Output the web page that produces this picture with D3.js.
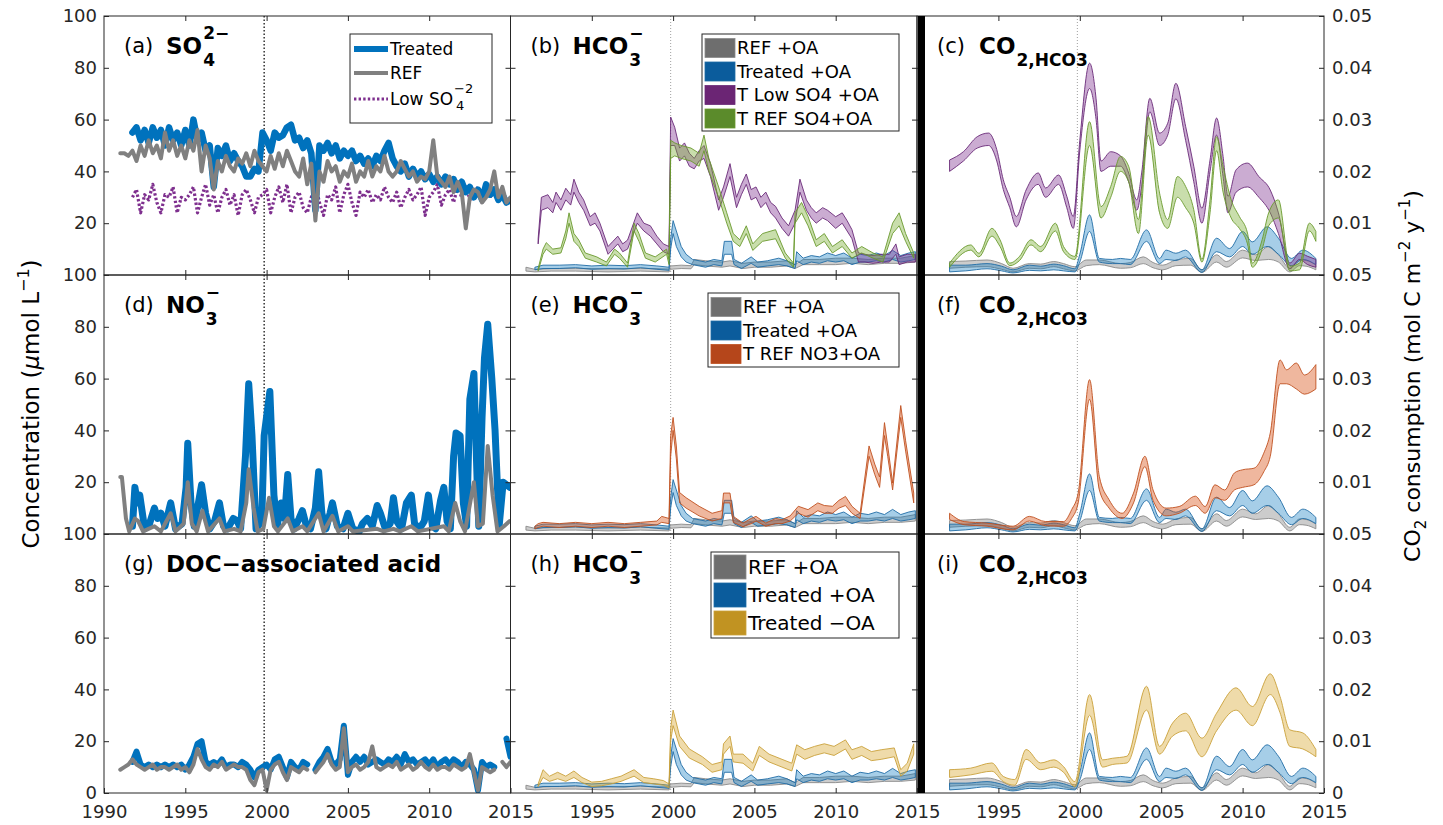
<!DOCTYPE html>
<html>
<head>
<meta charset="utf-8">
<script src="https://cdn.jsdelivr.net/npm/d3@7"></script>
<style>
  body { margin: 0; background: #fff; }
  svg { display: block; }
</style>
</head>
<body>
<svg id="chart" width="1443" height="825"></svg>
<script>
// ---------- data ----------
// column 1: quarterly samples starting 1991.0
const qStart = 1991, qStep = 0.25;

const so4Treated = [null, null, null, 55,
  57, 52, 56, 51,  57, 53, 56, 50,  57, 52, 55, 50,  56, 50, 60, 52,
  55, 48, 50, 34,  49, 46, 50, 44,  47, 44, 42, 38,  38, 41, 40, 55,
  52, 48, 55, 53,  54, 57, 58, 52,  53, 49, 52, 47,  25, 50, 48, 51,
  47, 50, 45, 48,  46, 48, 44, 46,  43, 45, 42, 46,  44, 48, 51, 45,
  42, 40, 43, 38,  41, 38, 40, 37,  39, 36, 38, 35,  38, 35, 37, 33,
  36, 32, 34, 30,  33, 29, 35, 31,  33, 29, 31, 28,  29];
const so4Ref = [47, 47, 46, 48,
  44, 50, 46, 52,  47, 50, 45, 55,  48, 52, 46, 50,  45, 52, 48, 56,
  40, 50, 45, 33,  44, 40, 46, 42,  40, 45, 43, 47,  42, 48, 44, 42,
  40, 46, 41, 47,  42, 48, 44, 40,  38, 45, 35, 43,  21, 40, 36, 44,
  40, 42, 36, 40,  38, 43, 36, 40,  38, 44, 38, 42,  40, 46, 40, 38,
  40, 44, 41, 38,  40, 36, 38, 37,  40, 52, 38, 36,  34, 38, 32, 36,
  32, 18, 30, 33,  32, 28, 30, 33,  40, 30, 34, 28,  30];
const so4Low = [null, null, null, 30,
  33, 24, 31, 29,  35, 28, 24, 31,  30, 34, 24, 30,  29, 31, 34, 24,
  30, 35, 27, 31,  24, 30, 33, 27,  31, 23, 31, 33,  29, 24, 30, 31,
  33, 24, 30, 34,  28, 35, 24, 30,  32, 26, 24, 30,  35, 28, 23, 31,
  29, 34, 24, 31,  35, 28, 23, 32,  30, 33, 28, 31,  29, 34, 30, 28,
  32, 26, 30, 33,  29, 31, 34, 23,  30, 32, 35, 27,  31, 33, 28, 34,
  30, 35, 29, 31,  34, 28, 31, 30,  33, 29, 31, 28,  30];

const docTreated = [null, null, null, 12,
  16, 11, 10, 11,  10, 11, 10, 11,  10, 11, 10, 11,  9, 11, 14, 19,
  20, 12, 11, 12,  11, 13, 10, 11,  11, 10, 12, 11,  9, 6, 9, 10,
  11, 9, 13, 14,  10, 6, 12, 10,  9, 12, 11, null,  9, 12, 14, 17,
  12, 11, 13, 26,  7, 12, 14, 12,  14, 11, 12, 13,  12, 11, 13, 12,
  14, 11, 15, 12,  13, 11, 12, 13,  11, 13, 10, 12,  13, 11, 13, 12,
  10, 12, 11, 9,  1, 12, 10, 11,  10, null, null, 21,  14];
const docRef = [9, 10, 11, 13,
  11, 10, 9, 10,  11, 9, 10, 10,  9, 10, 11, 9,  10, 8, 11, 17,
  13, 10, 9, 11,  10, 12, 9, 10,  11, 10, 10, 9,  5, 3, 8, 9,
  1, 9, 11, 12,  8, 5, 10, 9,  8, 10, 9, null,  8, 10, 12, 15,
  11, 9, 10, 25,  8, 10, 11, 9,  10, 12, 18, 10,  9, 10, 11, 10,
  12, 9, 10, 11,  9, 10, 12, 10,  9, 11, 9, 10,  10, 9, 11, 10,
  9, 10, 15, 8,  1, 10, 9, 8,  9, null, 12, 10,  12];

// nitrate: [year, value]
const no3Treated = [[1991.75, 3], [1991.9, 18], [1992.05, 12], [1992.2, 15], [1992.5, 2], [1992.8, 4],
  [1993.1, 10], [1993.3, 6], [1993.5, 8], [1993.75, 3], [1994.1, 12], [1994.4, 2], [1994.8, 4],
  [1995.05, 18], [1995.15, 35], [1995.35, 12], [1995.55, 3], [1995.75, 10], [1996.0, 19], [1996.25, 8],
  [1996.5, 2], [1996.8, 5], [1997.1, 12], [1997.35, 3], [1997.6, 2], [1997.95, 6], [1998.2, 5],
  [1998.4, 2], [1998.7, 30], [1998.9, 58], [1999.1, 38], [1999.35, 2], [1999.7, 5], [1999.85, 38],
  [2000.2, 55], [2000.45, 15], [2000.65, 3], [2000.9, 12], [2001.1, 6], [2001.3, 23], [2001.5, 6],
  [2001.7, 2], [2002.0, 6], [2002.2, 9], [2002.45, 3], [2002.7, 2], [2003.0, 10], [2003.2, 24],
  [2003.4, 8], [2003.65, 2], [2003.9, 8], [2004.05, 12], [2004.35, 3], [2004.7, 2], [2005.0, 8],
  [2005.3, 2], [2005.7, 1], [2005.9, 4], [2006.2, 6], [2006.5, 3], [2006.8, 11], [2007.0, 8],
  [2007.3, 2], [2007.6, 4], [2007.8, 14], [2008.0, 5], [2008.3, 2], [2008.6, 12], [2008.9, 15],
  [2009.1, 4], [2009.4, 2], [2009.7, 5], [2009.95, 15], [2010.2, 3], [2010.4, 2], [2010.7, 13],
  [2010.9, 18], [2011.1, 5], [2011.3, 2], [2011.5, 30], [2011.65, 39], [2011.9, 38], [2012.1, 12],
  [2012.3, 3], [2012.5, 52], [2012.75, 62], [2012.95, 20], [2013.05, 3], [2013.25, 45], [2013.4, 68],
  [2013.6, 81], [2013.85, 60], [2014.05, 40], [2014.3, 3], [2014.55, 20], [2014.75, 19], [2014.95, 18]];
const no3Ref = [[1991.0, 22], [1991.1, 22], [1991.35, 6], [1991.55, 1], [1991.9, 6], [1992.1, 5],
  [1992.4, 1], [1993.1, 3], [1993.5, 1], [1994.1, 8], [1994.4, 1], [1994.9, 4], [1995.15, 20],
  [1995.4, 4], [1995.7, 1], [1996.05, 9], [1996.4, 1], [1997.1, 6], [1997.4, 1], [1998.0, 2],
  [1998.4, 1], [1998.75, 12], [1998.9, 25], [1999.2, 10], [1999.45, 1], [1999.8, 2], [2000.15, 14],
  [2000.45, 3], [2000.7, 1], [2001.3, 6], [2001.6, 1], [2002.2, 3], [2002.5, 1], [2003.2, 8],
  [2003.5, 1], [2004.05, 7], [2004.4, 1], [2005.0, 3], [2005.3, 1], [2006.8, 2], [2007.2, 1],
  [2007.8, 2], [2008.2, 1], [2008.9, 3], [2009.3, 1], [2010.9, 3], [2011.2, 1], [2011.6, 12],
  [2011.9, 5], [2012.2, 1], [2012.75, 20], [2013.0, 3], [2013.3, 4], [2013.6, 34], [2013.9, 15],
  [2014.2, 1], [2014.6, 3], [2014.95, 5]];

// column 2: HCO3- bands [year, low, high] (umol/L)
const hcoRef = [[1990.95, 1.5, 3], [1991.5, 1.2, 2.2], [1992.5, 1.5, 2.5], [1994, 1.5, 2.6], [1996, 1.2, 2.3],
  [1998, 1.5, 2.6], [1999.75, 1.2, 2.3], [1999.85, 2.2, 3.5], [2000.5, 2.5, 3.8], [2001.1, 2.4, 3.6],
  [2001.3, 4, 6], [2002, 3.5, 5.5], [2003, 3, 5], [2003.5, 3.5, 5.5], [2004.3, 2.5, 4.5], [2005, 3, 5],
  [2006, 3, 5], [2007, 3.5, 5.5], [2007.5, 2.5, 4], [2008, 4, 6], [2009, 4, 6], [2010, 4, 6.5],
  [2011, 4.5, 6.5], [2012, 4, 6], [2013, 4.5, 6.5], [2014, 4.5, 6.5], [2014.9, 5, 7.5]];
const hcoTreated = [[1991.5, 2, 3], [1992, 2.5, 3.8], [1993, 2.5, 3.8], [1994, 2.8, 4], [1995, 2.2, 3.5],
  [1996, 2.5, 3.8], [1997, 2.3, 3.6], [1998, 2.8, 4], [1999, 2.2, 3.5], [1999.75, 1.8, 3],
  [1999.85, 10, 14], [2000.0, 16, 21], [2000.2, 11, 17], [2000.5, 7, 11], [2000.8, 5, 8], [2001.2, 4, 6],
  [2001.6, 3.5, 5.5], [2002, 3, 5], [2002.5, 4, 6], [2003.0, 3.5, 5.5], [2003.15, 8, 13], [2003.6, 8, 13],
  [2003.75, 4, 6], [2004.2, 2.5, 4.5], [2004.8, 4.5, 7], [2005.2, 3, 5], [2005.8, 3.5, 5.5],
  [2006.5, 4, 6.5], [2007.0, 3.5, 5.5], [2007.5, 2.5, 4], [2007.6, 5.5, 9], [2008.0, 4, 6.5],
  [2008.5, 5, 7.5], [2009, 4.5, 7], [2009.5, 5.5, 8.5], [2010, 5, 7.5], [2010.5, 5.5, 8.5], [2011, 4, 6.5],
  [2011.5, 5, 8], [2012, 5, 7.5], [2012.5, 5.5, 8.5], [2013, 5, 7.5], [2013.5, 6, 9.5], [2014, 5, 7.5],
  [2014.5, 5.5, 8.5], [2014.9, 6, 9]];
const hcoLowSO4 = [[1991.7, 12, 14], [1991.9, 25, 30], [1992.3, 26, 31], [1992.6, 24, 28], [1992.8, 28, 32],
  [1993.1, 25, 29], [1993.4, 29, 33.5], [1993.7, 27, 31], [1993.9, 32, 37], [1994.2, 28, 32], [1994.5, 25, 29],
  [1994.9, 19, 22.5], [1995.2, 20, 24], [1995.5, 17, 20], [1996.0, 8, 11], [1996.3, 10, 13], [1996.6, 12, 15],
  [1996.9, 9, 12], [1997.2, 10, 13.5], [1997.8, 20, 24], [1998.2, 17, 20], [1998.6, 15, 19], [1999.0, 12, 15],
  [1999.4, 9, 12], [1999.75, 8, 11], [1999.85, 50, 61], [2000.1, 50, 57], [2000.4, 44, 49], [2000.7, 46, 51],
  [2001.0, 42, 47], [2001.3, 41, 45], [2001.6, 44, 48], [2001.9, 45, 50], [2002.3, 38, 43], [2002.8, 25, 29],
  [2003.1, 30, 34], [2003.5, 38, 43], [2003.9, 26, 30], [2004.2, 31, 35], [2004.5, 35, 39], [2004.8, 29, 33],
  [2005.1, 30, 34], [2005.4, 26, 30], [2005.7, 28, 32], [2006.0, 24, 28], [2006.3, 22, 26.5], [2006.7, 18, 22],
  [2007.1, 15, 19], [2007.5, 20, 25], [2007.8, 32, 37], [2008.2, 25, 29], [2008.5, 22, 26], [2008.8, 20, 24],
  [2009.2, 22, 26], [2009.5, 21, 25], [2010.0, 18, 22.5], [2010.4, 20, 24], [2010.7, 17, 21], [2011.0, 14, 17.5],
  [2011.4, 5, 8.5], [2011.8, 5, 8], [2012.3, 4.5, 7.5], [2012.8, 5, 8], [2013.3, 5, 8], [2013.7, 8, 12],
  [2013.9, 4, 7], [2014.4, 5, 8], [2014.9, 5, 8]];
const hcoRefSO4 = [[1991.7, 1.5, 2.5], [1992.0, 8, 10], [1992.2, 10, 12.5], [1992.6, 8, 10], [1993.1, 8.5, 10.5],
  [1993.4, 14, 17], [1993.6, 20, 24], [1993.9, 13, 16], [1994.2, 11, 13.5], [1994.6, 6.5, 8.5], [1995.3, 5, 7],
  [1995.9, 3.5, 5], [1996.4, 8, 10], [1996.7, 6.5, 8.5], [1997.2, 3, 4.6], [1997.6, 17, 20], [1997.9, 13, 16],
  [1998.3, 6.5, 8.5], [1998.9, 5, 7], [1999.6, 8, 10], [1999.75, 4, 6], [1999.85, 45, 52], [2000.1, 46, 51],
  [2000.5, 45, 50], [2001.1, 44, 49], [2001.6, 42, 47], [2001.9, 48, 54], [2002.2, 40, 45], [2002.8, 30, 34],
  [2003.3, 20, 24], [2003.7, 13, 16], [2004.1, 11, 13.6], [2004.5, 16, 19], [2004.9, 9.5, 12], [2005.5, 13, 16],
  [2006.3, 14, 17.5], [2006.9, 6.5, 8.5], [2007.4, 3, 4.6], [2007.5, 20, 24], [2007.9, 24, 28],
  [2008.3, 19, 22.6], [2008.8, 11, 13.6], [2009.3, 13, 16], [2009.8, 8.5, 11], [2010.4, 11, 13.6],
  [2011.0, 6.5, 8.5], [2011.6, 8.5, 11], [2012.3, 6.5, 8.5], [2012.9, 5, 7], [2013.5, 16, 20],
  [2013.9, 19, 24], [2014.3, 13, 16], [2014.8, 6.5, 8.5]];
const hcoRefNO3 = [[1991.5, 2, 3], [1991.7, 2.5, 4], [1992.0, 3, 4.5], [1993, 2.5, 4], [1994, 3, 4.5],
  [1995, 2.5, 4], [1996, 3, 4.5], [1997, 2.5, 4], [1998, 3, 4.5], [1999.0, 3.5, 5], [1999.3, 4.5, 6.8],
  [1999.75, 4, 6], [1999.85, 30, 38], [2000.0, 40, 45], [2000.2, 29, 34], [2000.4, 12, 16], [2000.8, 10, 14],
  [2001.6, 7, 10.7], [2002.4, 5, 8], [2003.0, 6, 9], [2003.1, 12, 15.8], [2003.5, 12, 15.8], [2003.7, 4.5, 6.8],
  [2004.3, 2.8, 4.2], [2004.8, 4, 6], [2005.1, 5, 6.8], [2005.7, 3, 4.2], [2006.3, 4, 6], [2006.7, 4, 5.5],
  [2007.2, 5, 7], [2007.7, 8, 10.7], [2008.3, 6.5, 9.4], [2008.9, 9, 12], [2009.3, 8, 11], [2009.8, 8, 10.7],
  [2010.2, 10, 13], [2010.6, 11, 14.5], [2011.0, 8, 10.7], [2011.5, 6, 8], [2012.05, 30, 34],
  [2012.4, 23, 27], [2012.7, 18, 22], [2013.0, 38, 43], [2013.2, 30, 34], [2013.5, 17, 19.7],
  [2014.0, 45, 49.6], [2014.3, 32, 36], [2014.8, 12, 15.8]];
const hcoNoOA = [[1991.7, 2.5, 3.5], [1992.0, 6, 9], [1992.4, 4.5, 6.5], [1992.9, 5.5, 8], [1993.4, 4.5, 6.5],
  [1993.9, 6, 8.5], [1994.4, 4, 6], [1995.0, 2.5, 4.2], [1995.6, 2.8, 4.5], [1996.2, 3.5, 5.5],
  [1996.8, 4.5, 6.5], [1997.6, 6.5, 9], [1998.2, 4, 6], [1998.8, 3.5, 5.5], [1999.4, 3, 4.8],
  [1999.75, 2, 3.5], [1999.85, 20, 25], [2000.0, 26, 32], [2000.4, 18, 22], [2001.0, 13.5, 17],
  [2001.8, 11, 14], [2002.4, 8, 11], [2003.0, 9, 12], [2003.1, 15, 19], [2003.5, 18, 22], [2003.7, 12, 15],
  [2004.3, 11.5, 15], [2004.9, 8.5, 11.5], [2005.3, 14.5, 18], [2005.9, 12, 15], [2006.7, 10, 13],
  [2007.3, 8.5, 11.5], [2007.6, 15, 18.6], [2008.1, 13, 16.7], [2008.7, 14.5, 18], [2009.3, 15.5, 19],
  [2009.9, 14.5, 18], [2010.6, 17, 20.5], [2011.0, 13, 16.7], [2011.6, 14.5, 18], [2012.2, 12.5, 16],
  [2012.8, 13, 16.7], [2013.6, 14, 17.4], [2014.0, 6.5, 9], [2014.4, 8.5, 11.5], [2014.8, 15, 19]];

// column 3: CO2 consumption bands [year, low, high] (mol C m-2 y-1)
const co2Ref = [[1992.0, 0.0013, 0.0026], [1993.0, 0.0015, 0.0027], [1994.3, 0.0016, 0.0029], [1995.2, 0.0011, 0.0022],
  [1995.9, 0.0006, 0.0013], [1996.9, 0.0013, 0.0022], [1997.6, 0.0012, 0.0021], [1998.4, 0.0016, 0.0026],
  [1999.0, 0.0012, 0.0022], [1999.7, 0.0008, 0.0016], [2000.4, 0.0018, 0.0029], [2001.2, 0.002, 0.0029],
  [2002.5, 0.0013, 0.0022], [2003.1, 0.0014, 0.0024], [2003.9, 0.0022, 0.0035], [2004.5, 0.0014, 0.0024],
  [2005.1, 0.001, 0.0019], [2005.9, 0.0018, 0.0029], [2006.8, 0.0019, 0.0032], [2007.5, 0.0005, 0.001],
  [2008.4, 0.0025, 0.0039], [2009.0, 0.0015, 0.0026], [2010.0, 0.0033, 0.0048], [2010.8, 0.0028, 0.0039],
  [2011.6, 0.003, 0.0055], [2012.2, 0.0025, 0.0039], [2012.9, 0.0006, 0.0013], [2013.5, 0.0018, 0.0029],
  [2013.9, 0.0017, 0.0028], [2014.5, 0.001, 0.0019]];
const co2Treated = [[1992.0, 0.0006, 0.0019], [1993.0, 0.0008, 0.0019], [1994.3, 0.0012, 0.0022], [1995.2, 0.0008, 0.0017],
  [1995.9, 0.0004, 0.001], [1996.9, 0.0009, 0.0019], [1997.6, 0.0008, 0.0017], [1998.4, 0.001, 0.0021],
  [1999.0, 0.0008, 0.0018], [1999.7, 0.0006, 0.0012], [2000.0, 0.0025, 0.004], [2000.6, 0.0084, 0.0116],
  [2001.2, 0.0025, 0.0032], [2002.0, 0.0022, 0.003], [2002.5, 0.0022, 0.0032], [2003.1, 0.002, 0.003],
  [2004.1, 0.0065, 0.0087], [2004.9, 0.0022, 0.0032], [2005.3, 0.003, 0.0048], [2005.9, 0.0028, 0.0042],
  [2006.5, 0.0035, 0.0048], [2007.5, 0.0005, 0.001], [2008.4, 0.0045, 0.0071], [2009.2, 0.0035, 0.0051],
  [2010.0, 0.0055, 0.0084], [2010.6, 0.004, 0.0064], [2011.5, 0.0055, 0.0093], [2012.2, 0.004, 0.0071],
  [2013.0, 0.0018, 0.0032], [2013.7, 0.003, 0.0048], [2014.5, 0.002, 0.0032]];
const co2LowSO4 = [[1992.0, 0.02, 0.0222], [1992.85, 0.022, 0.0238], [1993.7, 0.0245, 0.0267], [1994.4, 0.025, 0.0274],
  [1994.9, 0.022, 0.0242], [1995.3, 0.0165, 0.0184], [1995.7, 0.013, 0.015], [1996.1, 0.0093, 0.0113],
  [1996.7, 0.0145, 0.0164], [1997.45, 0.0175, 0.0197], [1997.9, 0.015, 0.0168], [1998.7, 0.0175, 0.0193],
  [1999.2, 0.013, 0.0152], [1999.6, 0.009, 0.0113], [2000.0, 0.024, 0.026], [2000.6, 0.036, 0.0409],
  [2001.0, 0.03, 0.034], [2001.3, 0.02, 0.022], [2001.9, 0.021, 0.0238], [2002.5, 0.021, 0.023],
  [2003.0, 0.018, 0.0197], [2003.5, 0.0125, 0.0145], [2003.8, 0.017, 0.0197], [2004.3, 0.0315, 0.0341],
  [2004.9, 0.025, 0.0274], [2005.4, 0.027, 0.0293], [2005.9, 0.034, 0.037], [2006.5, 0.026, 0.0287],
  [2007.0, 0.018, 0.021], [2007.5, 0.01, 0.0129], [2008.0, 0.02, 0.0222], [2008.4, 0.027, 0.0303],
  [2008.8, 0.019, 0.0229], [2009.1, 0.012, 0.0152], [2009.6, 0.016, 0.0203], [2010.3, 0.017, 0.0216],
  [2011.0, 0.015, 0.019], [2011.7, 0.012, 0.0164], [2012.2, 0.008, 0.012], [2012.9, 0.0012, 0.0023],
  [2013.5, 0.003, 0.0042], [2014.0, 0.002, 0.0036], [2014.5, 0.0015, 0.003]];
const co2RefSO4 = [[1992.0, 0.0015, 0.0023], [1993.3, 0.0048, 0.0058], [1993.8, 0.0035, 0.0042], [1994.6, 0.0075, 0.009],
  [1995.1, 0.0055, 0.0068], [1995.7, 0.0018, 0.0023], [1996.3, 0.0028, 0.0036], [1997.0, 0.0058, 0.0068],
  [1997.6, 0.0045, 0.0055], [1998.5, 0.0085, 0.01], [1999.0, 0.0045, 0.0055], [1999.7, 0.003, 0.0036],
  [2000.6, 0.025, 0.0296], [2001.3, 0.011, 0.0132], [2001.9, 0.015, 0.0171], [2002.5, 0.02, 0.0229],
  [2003.0, 0.018, 0.021], [2003.6, 0.008, 0.0107], [2004.2, 0.027, 0.0306], [2004.9, 0.012, 0.0158],
  [2005.4, 0.009, 0.0107], [2006.0, 0.015, 0.019], [2006.5, 0.013, 0.0171], [2007.0, 0.01, 0.0126],
  [2007.5, 0.0025, 0.003], [2008.0, 0.012, 0.0145], [2008.4, 0.024, 0.0267], [2008.8, 0.016, 0.021],
  [2009.3, 0.011, 0.0145], [2009.8, 0.009, 0.0113], [2010.3, 0.006, 0.0081], [2010.6, 0.0015, 0.0023],
  [2011.2, 0.005, 0.0068], [2011.6, 0.0095, 0.012], [2012.2, 0.011, 0.0145], [2012.9, 0.0008, 0.0017],
  [2013.5, 0.001, 0.0023], [2014.1, 0.0085, 0.01], [2014.5, 0.0065, 0.0084]];
const co2RefNO3 = [[1992.0, 0.0028, 0.004], [1992.9, 0.0018, 0.0024], [1994.3, 0.0015, 0.0021], [1995.9, 0.0008, 0.0015],
  [1996.9, 0.0025, 0.0034], [1997.9, 0.0016, 0.0024], [1999.0, 0.0015, 0.0024], [1999.5, 0.003, 0.0047],
  [1999.9, 0.006, 0.0079], [2000.6, 0.026, 0.0298], [2001.2, 0.0085, 0.0111], [2001.8, 0.005, 0.0066],
  [2002.6, 0.003, 0.004], [2003.3, 0.006, 0.0079], [2004.0, 0.013, 0.015], [2004.5, 0.0065, 0.0085],
  [2005.3, 0.0035, 0.005], [2006.1, 0.004, 0.0053], [2007.1, 0.0055, 0.0073], [2007.7, 0.004, 0.0053],
  [2008.3, 0.007, 0.0095], [2008.9, 0.0065, 0.0085], [2009.5, 0.0085, 0.0118], [2010.0, 0.009, 0.0124],
  [2010.7, 0.0095, 0.0127], [2011.3, 0.012, 0.0156], [2011.7, 0.015, 0.0195], [2012.3, 0.029, 0.0336],
  [2012.7, 0.029, 0.0317], [2013.3, 0.028, 0.033], [2013.8, 0.027, 0.0307], [2014.5, 0.028, 0.0327]];
const co2NoOA = [[1992.0, 0.003, 0.0045], [1993.3, 0.0035, 0.0048], [1994.6, 0.0042, 0.0058], [1995.3, 0.0022, 0.0032],
  [1996.0, 0.0015, 0.0026], [1996.7, 0.0065, 0.0084], [1997.6, 0.0045, 0.0058], [1998.4, 0.005, 0.0064],
  [1999.0, 0.004, 0.0051], [1999.7, 0.0012, 0.0022], [2000.6, 0.015, 0.019], [2001.4, 0.005, 0.0064],
  [2002.0, 0.0055, 0.0067], [2002.9, 0.0058, 0.0071], [2004.1, 0.016, 0.0206], [2004.9, 0.0075, 0.009],
  [2005.7, 0.011, 0.0135], [2006.5, 0.012, 0.0154], [2007.5, 0.007, 0.0106], [2008.4, 0.012, 0.0154],
  [2009.6, 0.016, 0.0203], [2010.6, 0.013, 0.0167], [2011.7, 0.019, 0.023], [2012.3, 0.0155, 0.0186],
  [2012.9, 0.009, 0.0122], [2013.7, 0.0085, 0.0116], [2014.5, 0.007, 0.0084]];

// tick values and labels
const yearTicks = [1990, 1995, 2000, 2005, 2010, 2015];
const concTicks = [0, 20, 40, 60, 80, 100];
const co2Ticks = [0, 0.01, 0.02, 0.03, 0.04, 0.05];
const treatmentYear = 1999.85;

const legendB = ["REF +OA", "Treated +OA", "T Low SO4 +OA", "T REF SO4+OA"];
const legendE = ["REF +OA", "Treated +OA", "T REF NO3+OA"];
const legendH = ["REF +OA", "Treated +OA", "Treated \u2212OA"];

// ---------- styles ----------
const FONT = "DejaVu Sans";
const INK = "#262626";
const lineCol = { treated: "#0072bd", ref: "#808080", low: "#7e2f8e" };
const bandStyle = {
  ref:     { fill: "#7f7f7f", edge: "#8a8a8a", op: 0.4,  key: "#6e6e6e" },
  treated: { fill: "#0072bd", edge: "#1f6ca6", op: 0.35, key: "#0b5c9c" },
  low:     { fill: "#7e2f8e", edge: "#6a2a78", op: 0.4,  key: "#6b2574" },
  refso4:  { fill: "#77ac30", edge: "#6a9a2e", op: 0.4,  key: "#5b8b2b" },
  refno3:  { fill: "#d95319", edge: "#c0501f", op: 0.42, key: "#b5461b" },
  nooa:    { fill: "#d4a020", edge: "#c9a03a", op: 0.38, key: "#c19322" }
};

// ---------- layout ----------
const colEdge = [104, 510.5, 917, 1324];
const rowEdge = [16, 275, 534, 793];

const svg = d3.select("#chart").attr("font-family", FONT);
const defs = svg.append("defs");
const dataLayer = svg.append("g");
const axisLayer = svg.append("g");
const textLayer = svg.append("g");

function makePanel(r, c) {
  const x = d3.scaleLinear().domain([1990, 2015]).range([colEdge[c], colEdge[c + 1]]);
  const y = c === 2
    ? d3.scaleLinear().domain([0, 0.05]).range([rowEdge[r + 1], rowEdge[r]])
    : d3.scaleLinear().domain([0, 100]).range([rowEdge[r + 1], rowEdge[r]]);
  const id = `clip-${r}-${c}`;
  defs.append("clipPath").attr("id", id).append("rect")
    .attr("x", colEdge[c]).attr("y", rowEdge[r])
    .attr("width", colEdge[c + 1] - colEdge[c]).attr("height", rowEdge[r + 1] - rowEdge[r]);
  const g = dataLayer.append("g").attr("clip-path", `url(#${id})`);
  // treatment start marker
  g.append("line")
    .attr("x1", x(treatmentYear)).attr("x2", x(treatmentYear))
    .attr("y1", rowEdge[r]).attr("y2", rowEdge[r + 1])
    .attr("stroke", c === 0 ? "#222" : "#888")
    .attr("stroke-width", c === 0 ? 1.4 : 0.8)
    .attr("stroke-dasharray", c === 0 ? "1.5,2" : "1,2");
  return { r, c, x, y, g };
}

function quarterLine(p, vals, color, width, dash) {
  const line = d3.line()
    .defined(v => v != null)
    .x((v, i) => p.x(qStart + i * qStep))
    .y(v => p.y(v));
  p.g.append("path").attr("d", line(vals))
    .attr("fill", "none").attr("stroke", color).attr("stroke-width", width)
    .attr("stroke-linejoin", "round").attr("stroke-linecap", dash ? "butt" : "round")
    .attr("stroke-dasharray", dash || null);
}

function pairLine(p, pts, color, width) {
  const line = d3.line().x(d => p.x(d[0])).y(d => p.y(d[1]));
  p.g.append("path").attr("d", line(pts))
    .attr("fill", "none").attr("stroke", color).attr("stroke-width", width)
    .attr("stroke-linejoin", "round").attr("stroke-linecap", "round");
}

function band(p, rows, st, smooth) {
  const area = d3.area().x(d => p.x(d[0])).y0(d => p.y(d[1])).y1(d => p.y(d[2]))
    .curve(smooth ? d3.curveMonotoneX : d3.curveLinear);
  p.g.append("path").attr("d", area(rows))
    .attr("fill", st.fill).attr("fill-opacity", st.op)
    .attr("stroke", st.edge).attr("stroke-width", 0.9).attr("stroke-linejoin", "round");
}

function styleAxis(g, size) {
  g.attr("font-family", FONT).attr("font-size", size);
  g.select(".domain").remove();
  g.selectAll(".tick line").attr("stroke", INK);
  g.selectAll(".tick text").attr("fill", INK);
}

function frame(p) {
  const { r, c, x, y } = p;
  const x0 = colEdge[c], x1 = colEdge[c + 1], y0 = rowEdge[r], y1 = rowEdge[r + 1];
  const yt = c === 2 ? co2Ticks : concTicks;
  const inner = yt.slice(1, -1);
  const xInner = yearTicks.slice(1, -1);

  axisLayer.append("rect").attr("x", x0).attr("y", y0)
    .attr("width", x1 - x0).attr("height", y1 - y0)
    .attr("fill", "none").attr("stroke", INK).attr("stroke-width", 1);

  // left side
  const leftLabels = c === 0;
  const lv = leftLabels ? (r === 2 ? yt : yt.slice(1)) : inner;
  axisLayer.append("g").attr("transform", `translate(${x0},0)`)
    .call(d3.axisLeft(y).tickValues(lv).tickSizeInner(-5).tickSizeOuter(0).tickPadding(7)
      .tickFormat(leftLabels ? d3.format("d") : ""))
    .call(g => styleAxis(g, 18));

  // right side
  const rightLabels = c === 2;
  const rv = rightLabels ? (r === 2 ? yt : yt.slice(1)) : inner;
  axisLayer.append("g").attr("transform", `translate(${x1},0)`)
    .call(d3.axisRight(y).tickValues(rv).tickSizeInner(-5).tickSizeOuter(0).tickPadding(8)
      .tickFormat(rightLabels ? (v => v === 0 ? "0" : d3.format(".2f")(v)) : ""))
    .call(g => styleAxis(g, 18));

  // bottom side
  const bottomLabels = r === 2;
  const bv = bottomLabels ? (c === 0 ? yearTicks : yearTicks.slice(1)) : xInner;
  axisLayer.append("g").attr("transform", `translate(0,${y1})`)
    .call(d3.axisBottom(x).tickValues(bv).tickSizeInner(-5).tickSizeOuter(0).tickPadding(12)
      .tickFormat(bottomLabels ? d3.format("d") : ""))
    .call(g => styleAxis(g, 18));

  // top side
  axisLayer.append("g").attr("transform", `translate(0,${y0})`)
    .call(d3.axisTop(x).tickValues(xInner).tickSizeInner(-5).tickSizeOuter(0).tickFormat(""))
    .call(g => styleAxis(g, 18));
}

function title(p, letter, chem) {
  const top = rowEdge[p.r];
  const xp = colEdge[p.c] + 20;
  const yb = top + 37;
  textLayer.append("text").attr("x", xp).attr("y", yb)
    .attr("font-size", 21).attr("fill", "#000").text(`(${letter})`);
  const xb = xp + 42;
  const base = textLayer.append("text").attr("x", xb).attr("y", yb + 1)
    .attr("font-size", 23).attr("font-weight", "bold").attr("fill", "#000").text(chem.base);
  const w = base.node().getComputedTextLength();
  if (chem.sub) {
    textLayer.append("text").attr("x", xb + w + 1).attr("y", top + 50)
      .attr("font-size", 17).attr("font-weight", "bold").attr("fill", "#000").text(chem.sub);
  }
  if (chem.sup) {
    textLayer.append("text").attr("x", xb + w + 1).attr("y", top + 23)
      .attr("font-size", 17).attr("font-weight", "bold").attr("fill", "#000").text(chem.sup);
  }
}

function patchLegend(box, labels, styles, sw, fontSize) {
  const g = textLayer.append("g");
  g.append("rect").attr("x", box.x).attr("y", box.y).attr("width", box.w).attr("height", box.h)
    .attr("fill", "#fff").attr("stroke", INK).attr("stroke-width", 1);
  labels.forEach((lab, i) => {
    const cy = box.y + box.first + i * box.step;
    g.append("rect").attr("x", box.x + 3).attr("y", cy - sw.h / 2)
      .attr("width", sw.w).attr("height", sw.h)
      .attr("fill", styles[i].key).attr("stroke", styles[i].edge).attr("stroke-width", 0.8);
    g.append("text").attr("x", box.x + sw.w + 5).attr("y", cy + fontSize * 0.36)
      .attr("font-size", fontSize).attr("fill", "#000").text(lab);
  });
}

// ---------- panels ----------
const P = [];
for (let r = 0; r < 3; r++) for (let c = 0; c < 3; c++) P.push(makePanel(r, c));
const pan = (r, c) => P[r * 3 + c];

// (a) sulphate
quarterLine(pan(0, 0), so4Low, lineCol.low, 3.2, "2.4,2.2");
quarterLine(pan(0, 0), so4Treated, lineCol.treated, 6.5);
quarterLine(pan(0, 0), so4Ref, lineCol.ref, 4);
// (d) nitrate
pairLine(pan(1, 0), no3Treated, lineCol.treated, 7);
pairLine(pan(1, 0), no3Ref, lineCol.ref, 4);
// (g) DOC-associated acid
quarterLine(pan(2, 0), docTreated, lineCol.treated, 6);
quarterLine(pan(2, 0), docRef, lineCol.ref, 4);

// (b) (e) (h) bicarbonate
[0, 1, 2].forEach(r => {
  band(pan(r, 1), hcoRef, bandStyle.ref);
  band(pan(r, 1), hcoTreated, bandStyle.treated);
});
band(pan(0, 1), hcoLowSO4, bandStyle.low);
band(pan(0, 1), hcoRefSO4, bandStyle.refso4);
band(pan(1, 1), hcoRefNO3, bandStyle.refno3);
band(pan(2, 1), hcoNoOA, bandStyle.nooa);

// (c) (f) (i) CO2 consumption (smoothed annual estimates)
[0, 1, 2].forEach(r => {
  band(pan(r, 2), co2Ref, bandStyle.ref, true);
  band(pan(r, 2), co2Treated, bandStyle.treated, true);
});
band(pan(0, 2), co2LowSO4, bandStyle.low, true);
band(pan(0, 2), co2RefSO4, bandStyle.refso4, true);
band(pan(1, 2), co2RefNO3, bandStyle.refno3, true);
band(pan(2, 2), co2NoOA, bandStyle.nooa, true);

P.forEach(frame);

// thick separator between bicarbonate and CO2 columns
axisLayer.append("rect").attr("x", 918).attr("y", rowEdge[0])
  .attr("width", 7).attr("height", rowEdge[3] - rowEdge[0]).attr("fill", "#000");

// ---------- titles ----------
const hco3 = { base: "HCO", sub: "3", sup: "\u2212" };
const co2h = { base: "CO", sub: "2,HCO3" };
title(pan(0, 0), "a", { base: "SO", sub: "4", sup: "2\u2212" });
title(pan(0, 1), "b", hco3);
title(pan(0, 2), "c", co2h);
title(pan(1, 0), "d", { base: "NO", sub: "3", sup: "\u2212" });
title(pan(1, 1), "e", hco3);
title(pan(1, 2), "f", co2h);
title(pan(2, 0), "g", { base: "DOC\u2212associated acid" });
title(pan(2, 1), "h", hco3);
title(pan(2, 2), "i", co2h);

// ---------- legends ----------
{
  const g = textLayer.append("g");
  g.append("rect").attr("x", 350).attr("y", 34).attr("width", 142).attr("height", 89)
    .attr("fill", "#fff").attr("stroke", INK).attr("stroke-width", 1);
  const rows = [
    { cy: 49, color: lineCol.treated, w: 6, dash: null, label: "Treated" },
    { cy: 73, color: lineCol.ref, w: 4, dash: null, label: "REF" },
    { cy: 99, color: lineCol.low, w: 3.2, dash: "2.4,2.2", label: "Low SO" }
  ];
  rows.forEach(d => {
    g.append("line").attr("x1", 354).attr("x2", 388).attr("y1", d.cy).attr("y2", d.cy)
      .attr("stroke", d.color).attr("stroke-width", d.w).attr("stroke-dasharray", d.dash);
    const t = g.append("text").attr("x", 390).attr("y", d.cy + 6)
      .attr("font-size", 17).attr("fill", "#000").text(d.label);
    if (d.label === "Low SO") {
      const w = t.node().getComputedTextLength();
      g.append("text").attr("x", 391 + w).attr("y", d.cy - 6).attr("font-size", 13).attr("fill", "#000").text("\u22122");
      g.append("text").attr("x", 393 + w).attr("y", d.cy + 11).attr("font-size", 13).attr("fill", "#000").text("4");
    }
  });
}
patchLegend({ x: 702, y: 34, w: 197, h: 97, first: 14, step: 23.5 }, legendB,
  [bandStyle.ref, bandStyle.treated, bandStyle.low, bandStyle.refso4], { w: 30, h: 19 }, 18);
patchLegend({ x: 708, y: 293, w: 191, h: 74, first: 14, step: 23.5 }, legendE,
  [bandStyle.ref, bandStyle.treated, bandStyle.refno3], { w: 30, h: 19 }, 18);
patchLegend({ x: 711, y: 552, w: 188, h: 86, first: 15, step: 28 }, legendH,
  [bandStyle.ref, bandStyle.treated, bandStyle.nooa], { w: 32, h: 24 }, 20);

// ---------- axis titles ----------
{
  const t = textLayer.append("text")
    .attr("transform", "translate(39,404) rotate(-90)")
    .attr("text-anchor", "middle").attr("font-size", 23).attr("fill", "#000");
  t.append("tspan").text("Concentration (");
  t.append("tspan").attr("font-style", "italic").text("\u03bc");
  t.append("tspan").text("mol L");
  t.append("tspan").attr("font-size", 16).attr("dy", -10).text("\u22121");
  t.append("tspan").attr("dy", 10).text(")");
}
{
  const t = textLayer.append("text")
    .attr("transform", "translate(1420,376) rotate(-90)")
    .attr("text-anchor", "middle").attr("font-size", 22).attr("fill", "#000");
  t.append("tspan").text("CO");
  t.append("tspan").attr("font-size", 15).attr("dy", 6).text("2");
  t.append("tspan").attr("dy", -6).text(" consumption (mol C m");
  t.append("tspan").attr("font-size", 15).attr("dy", -10).text("\u22122");
  t.append("tspan").attr("dy", 10).text(" y");
  t.append("tspan").attr("font-size", 15).attr("dy", -10).text("\u22121");
  t.append("tspan").attr("dy", 10).text(")");
}
</script>
</body>
</html>
